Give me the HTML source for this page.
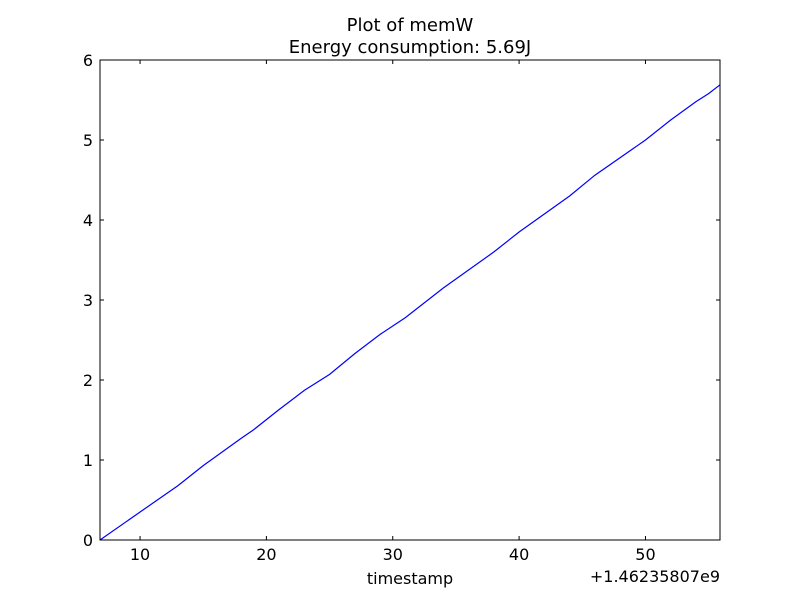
<!DOCTYPE html>
<html><head><meta charset="utf-8"><style>
body{margin:0;background:#fff;font-family:"Liberation Sans","DejaVu Sans",sans-serif}
svg text{font-family:"DejaVu Sans","Liberation Sans",sans-serif}
</style></head><body>
<svg id="chart" width="800" height="600" xmlns="http://www.w3.org/2000/svg">
<rect width="800" height="600" fill="#fff"/>
<text x="410" y="31" font-size="18" text-anchor="middle">Plot of memW</text>
<text x="410" y="53" font-size="18" text-anchor="middle">Energy consumption: 5.69J</text>
<g id="ticks"></g>
<path id="line" fill="none" stroke="#0000ff" stroke-width="1.2"/>
<rect x="100" y="60" width="620" height="480" fill="none" stroke="#000" stroke-width="1"/>
<text x="410" y="584" font-size="16" text-anchor="middle">timestamp</text>
<text x="720" y="582" font-size="16" text-anchor="end">+1.46235807e9</text>
</svg>
<script>
const xs=[6.83,10,13,15,18,19,21,22,23,25,27,29,31,34,38,40,44,46,50,52,54,55,55.9];
const ys=[0,0.35,0.68,0.93,1.27,1.38,1.63,1.75,1.87,2.07,2.33,2.57,2.78,3.15,3.6,3.85,4.3,4.56,5.0,5.25,5.48,5.58,5.69];
const xTicks=[10,20,30,40,50];
const yTicks=[0,1,2,3,4,5,6];
const X0=6.83,X1=55.9,Y0=0,Y1=6;
const sx=v=>100+(v-X0)/(X1-X0)*620;
const sy=v=>540-(v-Y0)/(Y1-Y0)*480;
const NS="http://www.w3.org/2000/svg";
const g=document.getElementById('ticks');
function add(tag,attrs,txt){const e=document.createElementNS(NS,tag);for(const k in attrs)e.setAttribute(k,attrs[k]);if(txt!==undefined)e.textContent=txt;g.appendChild(e);return e;}
xTicks.forEach(t=>{const x=sx(t);
const a=add('line',{x1:x,x2:x,y1:540,y2:536,stroke:'#000'});
const b=add('line',{x1:x,x2:x,y1:60,y2:64,stroke:'#000'});
const l=add('text',{x:x,y:560,'font-size':16,'text-anchor':'middle'},t);});
yTicks.forEach(t=>{const y=sy(t);
const a=add('line',{x1:100,x2:104,y1:y,y2:y,stroke:'#000'});
const b=add('line',{x1:716,x2:720,y1:y,y2:y,stroke:'#000'});
const l=add('text',{x:93,y:y+6,'font-size':16,'text-anchor':'end'},t);});
document.getElementById('line').setAttribute('d',xs.map((v,i)=>(i?'L':'M')+sx(v).toFixed(1)+','+sy(ys[i]).toFixed(1)).join(''));
</script>
</body></html>
